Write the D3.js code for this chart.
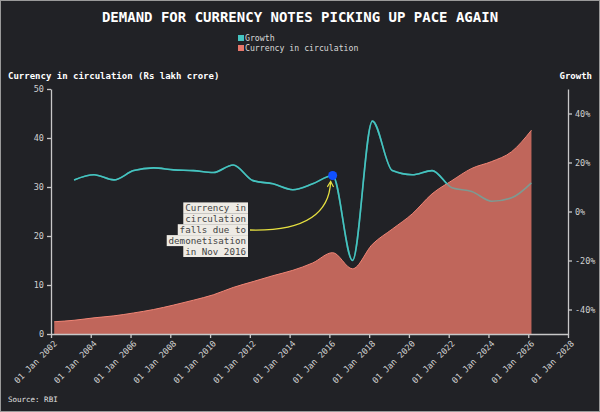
<!DOCTYPE html>
<meta charset="utf-8">
<style>
  body { margin: 0; background: #212226; }
  svg { display: block; font-family: "DejaVu Sans Mono", monospace; }
  .axis path, .axis line { stroke: #c8c8c8; stroke-width: 1.3; }
  .axis text { fill: #d0d0d0; font-family: "DejaVu Sans Mono", monospace; font-size: 8.5px; }
</style>
<body>
<script src="https://d3js.org/d3.v7.min.js"></script>
<script>
// values (end-March each year)
var years = [2002,2003,2004,2005,2006,2007,2008,2009,2010,2011,2012,2013,2014,
             2015,2016,2017,2018,2019,2020,2021,2022,2023,2024,2025,2026];
var currency = [2.5,2.8,3.3,3.7,4.3,5.0,5.9,6.9,8.0,9.5,10.7,11.9,13.0,
                14.5,16.6,13.3,18.3,21.4,24.5,28.6,31.3,33.8,35.2,37.2,41.6];
var growthYears = years.slice(1);
var growth = [12.9,15.0,12.9,16.7,17.8,17.0,16.7,15.9,19.0,12.6,11.3,8.9,11.3,
              14.7,-20.0,36.9,16.7,15.0,16.7,9.7,8.2,4.2,5.6,11.7];
var growthTicks = [-40,-20,0,20,40];
var noteLines = ["Currency in","circulation","falls due to","demonetisation","in Nov 2016"];

var width = 600, height = 412;
var m = {left: 51, right: 32, top: 89, bottom: 78};

var svg = d3.select("body").append("svg")
    .attr("width", width)
    .attr("height", height);

svg.append("rect")
    .attr("x", 0.5).attr("y", 0.5)
    .attr("width", width - 1).attr("height", height - 1)
    .attr("fill", "#212226")
    .attr("stroke", "#9a9a9a");

var x = d3.scaleTime()
    .domain([new Date(2002, 0, 1), new Date(2028, 0, 1)])
    .range([m.left, width - m.right]);
var y = d3.scaleLinear().domain([0, 50]).range([height - m.bottom, m.top]);
var y2 = d3.scaleLinear().domain([-50, 50]).range([height - m.bottom, m.top]);

var dt = function(yr) { return new Date(yr, 2, 1); };
var cData = years.map((d, i) => ({date: dt(d), value: currency[i]}));
var gData = growthYears.map((d, i) => ({date: dt(d), value: growth[i]}));

// title + legend
svg.append("text")
    .attr("x", 300).attr("y", 22)
    .attr("text-anchor", "middle")
    .attr("fill", "#fff")
    .style("font-size", "14px")
    .style("font-weight", "bold")
    .text("DEMAND FOR CURRENCY NOTES PICKING UP PACE AGAIN");

var legend = svg.append("g").attr("transform", "translate(238,38)")
  .selectAll("g")
  .data([["Growth", "#45c4c0"], ["Currency in circulation", "#e8776a"]])
  .join("g")
    .attr("transform", (d, i) => `translate(0,${i * 10})`);
legend.append("rect")
    .attr("y", -3).attr("width", 6).attr("height", 6)
    .attr("fill", d => d[1]);
legend.append("text")
    .attr("x", 7).attr("dy", "0.33em")
    .attr("fill", "#d8d8d8")
    .style("font-size", "8.2px")
    .text(d => d[0]);

svg.append("text")
    .attr("x", 8).attr("y", 79)
    .attr("fill", "#fff")
    .style("font-size", "9px").style("font-weight", "bold")
    .text("Currency in circulation (Rs lakh crore)");
svg.append("text")
    .attr("x", 592).attr("y", 79)
    .attr("text-anchor", "end")
    .attr("fill", "#fff")
    .style("font-size", "9px").style("font-weight", "bold")
    .text("Growth");

// currency area
var area = d3.area()
    .x(d => x(d.date))
    .y0(y(0))
    .y1(d => y(d.value))
    .curve(d3.curveMonotoneX);
svg.append("path")
    .datum(cData)
    .attr("d", area)
    .attr("fill", "#c0665b");
svg.append("path")
    .datum(cData)
    .attr("d", d3.line().x(d => x(d.date)).y(d => y(d.value)).curve(d3.curveMonotoneX))
    .attr("fill", "none")
    .attr("stroke", "#f08575")
    .attr("stroke-width", 1);

// growth line: muted where it runs over the area, full above it
var above = d3.area()
    .x(d => x(d.date))
    .y0(m.top - 20)
    .y1(d => y(d.value))
    .curve(d3.curveMonotoneX);
var clipData = [{date: x.domain()[0], value: 0}].concat(cData, [{date: x.domain()[1], value: 0}]);
svg.append("clipPath").attr("id", "above")
  .append("path")
    .datum(clipData)
    .attr("d", above);

var gLine = d3.line()
    .x(d => x(d.date))
    .y(d => y2(d.value))
    .curve(d3.curveMonotoneX);
svg.append("path")
    .datum(gData)
    .attr("d", gLine)
    .attr("fill", "none")
    .attr("stroke", "#45c4c0")
    .attr("stroke-opacity", 0.55)
    .attr("stroke-width", 1.6);
svg.append("path")
    .datum(gData)
    .attr("d", gLine)
    .attr("clip-path", "url(#above)")
    .attr("fill", "none")
    .attr("stroke", "#45c4c0")
    .attr("stroke-width", 1.6);

// axes
svg.append("g")
    .attr("class", "axis")
    .attr("transform", `translate(0,${y(0)})`)
    .call(d3.axisBottom(x).ticks(d3.timeYear.every(2)).tickFormat(d3.timeFormat("%d %b %Y")).tickSize(4).tickSizeOuter(0))
  .selectAll("text")
    .attr("text-anchor", "end")
    .attr("x", 0).attr("y", 0)
    .attr("dx", 0)
    .attr("dy", "0.35em")
    .attr("transform", "translate(4,8) rotate(-45)");

svg.append("g")
    .attr("class", "axis")
    .attr("transform", `translate(${m.left},0)`)
    .call(d3.axisLeft(y).ticks(5).tickSize(4).tickSizeOuter(0));

svg.append("g")
    .attr("class", "axis")
    .attr("transform", `translate(${width - m.right},0)`)
    .call(d3.axisRight(y2).tickValues(growthTicks).tickFormat(d => d + "%").tickSize(4).tickSizeOuter(0));

// annotation
var hi = gData.find(d => d.date.getFullYear() === 2016);
svg.append("defs").append("marker")
    .attr("id", "arr")
    .attr("viewBox", "0 0 10 10")
    .attr("refX", 8).attr("refY", 5)
    .attr("markerWidth", 6).attr("markerHeight", 6)
    .attr("orient", "auto")
  .append("path")
    .attr("d", "M1,1L8,5L1,9")
    .attr("fill", "none")
    .attr("stroke", "#e6e040")
    .attr("stroke-width", 1.5);

var hx = x(hi.date), hy = y2(hi.value);
svg.append("path")
    .attr("d", `M250,230 Q${hx - 4},232 ${hx - 2},${hy + 6}`)
    .attr("fill", "none")
    .attr("stroke", "#e6e040")
    .attr("stroke-width", 1.3)
    .attr("marker-end", "url(#arr)");

var note = svg.append("g").attr("transform", "translate(246,208)");
var lines = note.selectAll("g").data(noteLines).join("g")
    .attr("transform", (d, i) => `translate(0,${i * 10.9})`);
lines.append("rect")
    .attr("x", d => -d.length * 5.52 - 2)
    .attr("y", -5.6)
    .attr("width", d => d.length * 5.52 + 4)
    .attr("height", 11)
    .attr("fill", "#eeebe5");
lines.append("text")
    .attr("text-anchor", "end")
    .attr("dy", "0.35em")
    .attr("fill", "#444")
    .style("font-size", "9.2px")
    .text(d => d);

svg.append("circle")
    .attr("cx", hx).attr("cy", hy)
    .attr("r", 4.5)
    .attr("fill", "#1050ff");

svg.append("text")
    .attr("x", 8).attr("y", 402)
    .attr("fill", "#e0e0e0")
    .style("font-size", "7.5px")
    .text("Source: RBI");
</script>
</body>
</html>
